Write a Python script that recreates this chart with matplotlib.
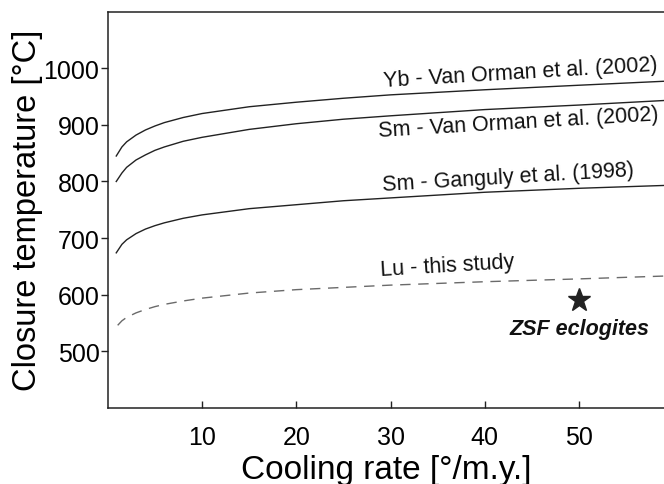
import numpy as np
import matplotlib
matplotlib.use("Agg")
import matplotlib.pyplot as plt

plt.rcParams['font.family'] = ['Liberation Sans', 'DejaVu Sans']

# Cooling rate [deg/m.y.]
rate = [0.9, 1.5, 2, 3, 4, 5, 6, 8, 10, 15, 20, 25, 30, 40, 50, 59]
yb_vo = [845, 861, 870, 882, 891, 898, 904, 913, 920, 932, 940, 947, 953, 962, 970, 977]
sm_vo = [800, 815, 825, 838, 847, 855, 861, 871, 878, 892, 902, 910, 916, 927, 935, 943]
sm_g = [674, 689, 697, 708, 716, 722, 727, 735, 741, 752, 759, 766, 771, 781, 788, 793]
rate_lu = [1.05, 1.5, 2, 3, 4, 5, 6, 8, 10, 15, 20, 25, 30, 40, 50, 59]
lu = [546, 554, 560, 568, 574, 579, 583, 589, 594, 603, 609, 613, 617, 623, 628, 633]

labels = ["Yb - Van Orman et al. (2002)", "Sm - Van Orman et al. (2002)",
          "Sm - Ganguly et al. (1998)", "Lu - this study"]
label_x = [43.8, 43.6, 42.5, 36.0]
label_y = [992, 905, 808, 652]

star_x = [50]
star_y = [590]
star_label = "ZSF eclogites"

fig = plt.figure(figsize=(6.64, 4.85), dpi=100)
ax = fig.add_axes([0.1623, 0.1567, 0.8377, 0.8173])

ax.plot(rate, yb_vo, color='#222222', lw=1.0)
ax.plot(rate, sm_vo, color='#222222', lw=1.0)
ax.plot(rate, sm_g, color='#222222', lw=1.0)
ax.plot(rate_lu, lu, color='#6a6a6a', lw=1.0, dashes=(7.5, 5.5))

for t, x, y in zip(labels, label_x, label_y):
    ax.text(x, y, t, fontsize=15.5, ha='center', va='center', rotation=3.4,
            rotation_mode='anchor', color='#111111')

ax.plot(star_x, star_y, marker='*', ms=17, color='#222222', ls='none')
ax.text(star_x[0], 540, star_label, fontsize=15.5, fontweight='bold', fontstyle='italic',
        ha='center', va='center', color='#111111')

ax.set_xlim(0, 59)
ax.set_ylim(400, 1100)
ax.set_xticks([10, 20, 30, 40, 50])
ax.set_yticks([500, 600, 700, 800, 900, 1000])
ax.tick_params(axis='x', direction='in', length=5, width=1, labelsize=18, pad=12, colors='#222222', labelcolor='black')
ax.tick_params(axis='y', direction='out', length=5, width=1, labelsize=18, pad=1, colors='#222222', labelcolor='black')
for s in ['left', 'bottom', 'top']:
    ax.spines[s].set_linewidth(1.1)
    ax.spines[s].set_color('#222222')
ax.spines['right'].set_visible(False)

ax.set_xlabel("Cooling rate [°/m.y.]", fontsize=24, labelpad=4)
ax.set_ylabel("Closure temperature [°C]", fontsize=23.5, labelpad=0.5)

fig.savefig("out.png", dpi=100)
